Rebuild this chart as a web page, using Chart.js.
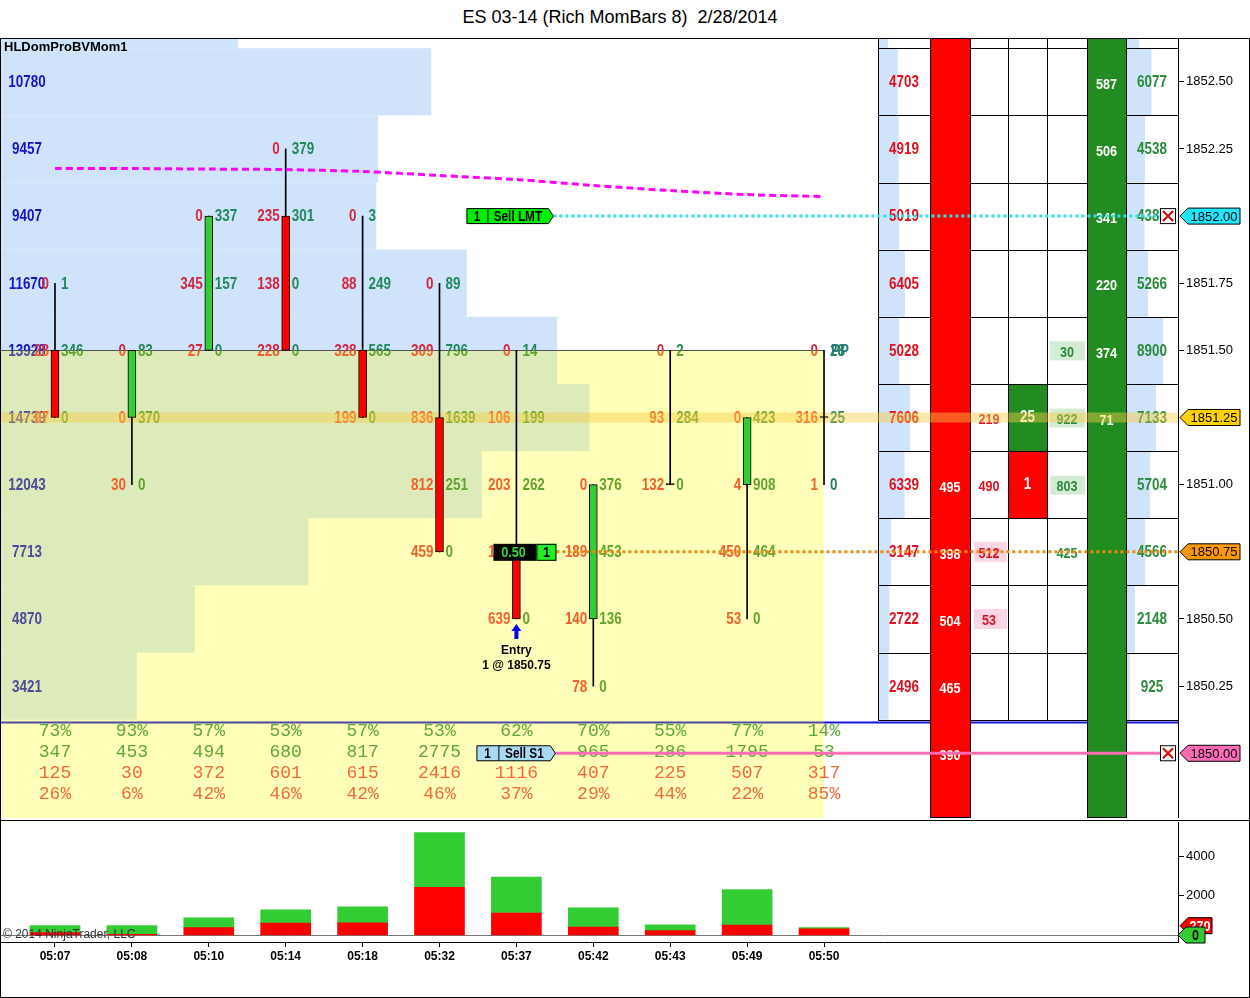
<!DOCTYPE html>
<html>
<head>
<meta charset="utf-8">
<title>ES 03-14 (Rich MomBars 8) 2/28/2014</title>
<script src="https://cdn.jsdelivr.net/npm/chart.js@4.4.1/dist/chart.umd.min.js"></script>
<style>
  body { margin: 0; background: #fff; font-family: "Liberation Sans", Arial, sans-serif; }
  #title { position: absolute; left: 0; top: 6px; width: 1240px; text-align: center; font-size: 18px; line-height: 22px; }
  #frame { position: absolute; left: 0; top: 38px; width: 1248px; height: 958px; border: 1px solid #000; z-index: 2; pointer-events: none; }
  #split { position: absolute; left: 0; top: 820px; width: 1250px; height: 1px; background: #000; z-index: 2; }
  #priceCanvas { position: absolute; left: 0; top: 38px; }
  #volumeCanvas { position: absolute; left: 0; top: 822px; }
</style>
</head>
<body>
<div id="title">ES 03-14 (Rich MomBars 8)&nbsp; 2/28/2014</div>
<div id="frame"></div>
<div id="split"></div>
<canvas id="priceCanvas" width="1250" height="780"></canvas>
<canvas id="volumeCanvas" width="1250" height="175"></canvas>
<script>
// bars
const times  = ["05:07", "05:08", "05:10", "05:14", "05:18", "05:32", "05:37", "05:42", "05:43", "05:49", "05:50"];
const opens  = [1851.50, 1851.25, 1851.50, 1852.00, 1851.50, 1851.25, 1850.75, 1850.50, 1851.00, 1851.00, 1851.25];
const highs  = [1851.75, 1851.50, 1852.00, 1852.25, 1852.00, 1851.75, 1851.50, 1851.00, 1851.50, 1851.25, 1851.50];
const lows   = [1851.25, 1851.00, 1851.50, 1851.50, 1851.25, 1850.75, 1850.50, 1850.25, 1851.00, 1850.50, 1851.00];
const closes = [1851.25, 1851.50, 1852.00, 1851.50, 1851.25, 1850.75, 1850.50, 1851.00, 1851.00, 1851.25, 1851.25];
const smaLine = [1852.177, 1852.177, 1852.175, 1852.173, 1852.166, 1852.151, 1852.136, 1852.114, 1852.095, 1852.080, 1852.073];

// footprint, per bar from the high down
const bidByBar = [
  [0, 28, 97], [0, 0, 30], [0, 345, 27], [0, 235, 138, 228], [0, 88, 328, 199],
  [0, 309, 836, 812, 459], [0, 106, 203, 168, 639], [0, 189, 140, 78], [0, 93, 132],
  [0, 4, 450, 53], [0, 316, 1]
];
const askByBar = [
  [1, 346, 0], [83, 370, 0], [337, 157, 0], [379, 301, 0, 0], [3, 249, 565, 0],
  [89, 796, 1639, 251, 0], [14, 199, 262, 1346, 0], [376, 453, 136, 0], [2, 284, 0],
  [423, 908, 464, 0], [28, 25, 0]
];

// volume profile
const profilePrices  = [1852.75, 1852.50, 1852.25, 1852.00, 1851.75, 1851.50, 1851.25, 1851.00, 1850.75, 1850.50, 1850.25];
const profileVolumes = [5950, 10780, 9457, 9407, 11670, 13928, 14739, 12043, 7713, 4870, 3421];

// DOM ladder
const domPrices   = [1852.75, 1852.50, 1852.25, 1852.00, 1851.75, 1851.50, 1851.25, 1851.00, 1850.75, 1850.50, 1850.25];
const domBidSizes = [2400, 4703, 4919, 5019, 6405, 5028, 7606, 6339, 3147, 2722, 2496];
const domAskSizes = [3100, 6077, 4538, 4386, 5266, 8900, 7133, 5704, 4566, 2148, 925];
const soldPrices  = [1851.00, 1850.75, 1850.50, 1850.25, 1850.00];
const soldVolumes = [495, 398, 504, 465, 390];
const boughtPrices  = [1852.50, 1852.25, 1852.00, 1851.75, 1851.50, 1851.25];
const boughtVolumes = [587, 506, 341, 220, 374, 71];
const bidChangePrices = [1851.25, 1851.00, 1850.75, 1850.50];
const bidChanges      = [219, 490, 512, 53];
const askChangePrices = [1851.50, 1851.25, 1851.00, 1850.75];
const askChanges      = [30, 922, 803, 425];
const lastTradePrices = [1851.25, 1851.00];
const lastTradeSizes  = [25, 1];

// levels and orders
const priceTicks   = [1852.50, 1852.25, 1851.75, 1851.50, 1851.00, 1850.50, 1850.25];
const volumeTicks  = [2000, 4000];
const pivotPrice   = 1851.50;
const lastPrice    = 1851.25;
const limitPrice   = 1852.00;
const entryPrice   = 1850.75;
const stopPrice    = 1850.00;
const lowLinePrice = 1850.115;
const volumeMarks  = [270, 0];

const SANS = '"Liberation Sans", Arial, sans-serif';
const HALF = 0.125;
Chart.defaults.font.family = SANS;

const sum = arr => arr.reduce((s, v) => s + v, 0);
const askTotals = askByBar.map(sum);
const bidTotals = bidByBar.map(sum);

// condensed bold text (no narrow face installed)
function nt(ctx, text, x, y, align, size) {
  ctx.save();
  ctx.font = 'bold ' + (size || 16) + 'px ' + SANS;
  ctx.textAlign = align;
  ctx.textBaseline = 'middle';
  ctx.translate(x, y);
  ctx.scale(0.84, 1);
  ctx.fillText(text, 0, 0);
  ctx.restore();
}

function rightTag(ctx, xTip, yc, w, fill, text, textColor, narrow) {
  const h = 16;
  ctx.beginPath();
  ctx.moveTo(xTip, yc);
  ctx.lineTo(xTip + 8, yc - h / 2);
  ctx.lineTo(xTip + w, yc - h / 2);
  ctx.lineTo(xTip + w, yc + h / 2);
  ctx.lineTo(xTip + 8, yc + h / 2);
  ctx.closePath();
  ctx.fillStyle = fill; ctx.fill();
  ctx.strokeStyle = '#000'; ctx.lineWidth = 1; ctx.stroke();
  ctx.fillStyle = textColor;
  if (narrow) {
    nt(ctx, text, xTip + 4 + w / 2, yc + 1, 'center', 15);
  } else {
    ctx.font = '13px ' + SANS;
    ctx.textAlign = 'center'; ctx.textBaseline = 'middle';
    ctx.fillText(text, xTip + 4 + w / 2, yc + 1);
  }
}

function orderFlag(ctx, left, divX, right, yc, fill, qty, label) {
  const h = 15;
  ctx.beginPath();
  ctx.moveTo(left + 0.5, yc - h / 2);
  ctx.lineTo(right - 5, yc - h / 2);
  ctx.lineTo(right, yc);
  ctx.lineTo(right - 5, yc + h / 2);
  ctx.lineTo(left + 0.5, yc + h / 2);
  ctx.closePath();
  ctx.fillStyle = fill; ctx.fill();
  ctx.strokeStyle = '#000'; ctx.lineWidth = 1; ctx.stroke();
  ctx.beginPath(); ctx.moveTo(divX + 0.5, yc - h / 2); ctx.lineTo(divX + 0.5, yc + h / 2); ctx.stroke();
  ctx.fillStyle = '#000';
  nt(ctx, qty, (left + divX) / 2, yc + 1, 'center', 14);
  nt(ctx, label, (divX + right - 5) / 2, yc + 1, 'center', 14);
}

function closeBox(ctx, xc, yc) {
  ctx.fillStyle = '#fff'; ctx.fillRect(xc - 8, yc - 8, 16, 16);
  ctx.strokeStyle = '#000'; ctx.lineWidth = 1; ctx.strokeRect(xc - 7.5, yc - 7.5, 15, 15);
  ctx.strokeStyle = '#e00000'; ctx.lineWidth = 2;
  ctx.beginPath();
  ctx.moveTo(xc - 5, yc - 5); ctx.lineTo(xc + 5, yc + 5);
  ctx.moveTo(xc + 5, yc - 5); ctx.lineTo(xc - 5, yc + 5);
  ctx.stroke();
}

function drawFootprint(ctx, x, y, a, pal) {
  ctx.fillStyle = pal.profile;
  profilePrices.forEach((p, i) => nt(ctx, String(profileVolumes[i]), a.left + 27, y.getPixelForValue(p) + 1, 'center', 16));
  times.forEach((t, i) => {
    const xi = x.getPixelForValue(i);
    bidByBar[i].forEach((v, j) => {
      const yy = y.getPixelForValue(highs[i] - 0.25 * j) + 1;
      ctx.fillStyle = pal.bid; nt(ctx, String(v), xi - 6, yy, 'right', 16);
      ctx.fillStyle = pal.ask; nt(ctx, String(askByBar[i][j]), xi + 6, yy, 'left', 16);
    });
  });
  ctx.fillStyle = pal.pp;
  nt(ctx, 'PP', x.getPixelForValue(times.length - 1) + 7, y.getPixelForValue(pivotPrice) + 1, 'left', 16);
}

const DOM_COLS = [878, 930, 970, 1008, 1047, 1087, 1126, 1178];

function drawDom(ctx, y, xd, a) {
  const depthW = v => xd.getPixelForValue(v) - xd.getPixelForValue(0);
  const rowT = p => y.getPixelForValue(p + HALF);
  const rowB = p => y.getPixelForValue(p - HALF);
  const colMid = c => (DOM_COLS[c] + DOM_COLS[c + 1]) / 2;

  ctx.fillStyle = '#cfe4fa';
  domPrices.forEach((p, i) => {
    ctx.fillRect(DOM_COLS[0], rowT(p), depthW(domBidSizes[i]), rowB(p) - rowT(p));
    ctx.fillRect(DOM_COLS[6], rowT(p), depthW(domAskSizes[i]), rowB(p) - rowT(p));
  });

  const gridBottom = rowB(domPrices[domPrices.length - 1]);
  ctx.strokeStyle = '#000'; ctx.lineWidth = 1;
  ctx.beginPath();
  DOM_COLS.forEach(cx => { ctx.moveTo(cx + 0.5, a.top); ctx.lineTo(cx + 0.5, Math.round(gridBottom) + 0.5); });
  domPrices.forEach(p => {
    const yy = Math.round(rowB(p)) + 0.5;
    ctx.moveTo(DOM_COLS[0], yy); ctx.lineTo(DOM_COLS[7], yy);
  });
  ctx.stroke();

  // last traded cells
  lastTradePrices.forEach((p, i) => {
    ctx.fillStyle = i === 0 ? '#228b22' : '#ff0000';
    ctx.fillRect(DOM_COLS[3] + 1, Math.round(rowT(p)) + 1, DOM_COLS[4] - DOM_COLS[3] - 1, Math.round(rowB(p) - rowT(p)) - 1);
  });

  // session traded columns
  const barH = a.bottom - 1 - a.top;
  ctx.fillStyle = '#ff0000';
  ctx.fillRect(DOM_COLS[1], a.top, DOM_COLS[2] - DOM_COLS[1], barH);
  ctx.fillStyle = '#228b22';
  ctx.fillRect(DOM_COLS[5], a.top, DOM_COLS[6] - DOM_COLS[5], barH);
  ctx.strokeStyle = '#000';
  ctx.strokeRect(DOM_COLS[1] + 0.5, a.top + 0.5, DOM_COLS[2] - DOM_COLS[1], barH);
  ctx.strokeRect(DOM_COLS[5] + 0.5, a.top + 0.5, DOM_COLS[6] - DOM_COLS[5], barH);

  // shaded change cells
  const pinkRows = [1850.75, 1850.50];
  const greenRows = [1851.50, 1851.25, 1851.00];
  ctx.fillStyle = '#fbd7e6';
  pinkRows.forEach(p => ctx.fillRect(DOM_COLS[2] + 4, y.getPixelForValue(p) - 10, 33, 20));
  ctx.fillStyle = '#d3ecd3';
  greenRows.forEach(p => ctx.fillRect(DOM_COLS[4] + 3, y.getPixelForValue(p) - 9, 35, 19));

  domPrices.forEach((p, i) => {
    const yy = y.getPixelForValue(p) + 1;
    ctx.fillStyle = '#e0101e'; nt(ctx, String(domBidSizes[i]), colMid(0), yy, 'center', 16);
    ctx.fillStyle = '#2b8a3c'; nt(ctx, String(domAskSizes[i]), colMid(6), yy, 'center', 16);
  });
  bidChangePrices.forEach((p, i) => {
    ctx.fillStyle = '#e0101e'; nt(ctx, String(bidChanges[i]), colMid(2), y.getPixelForValue(p) + 2, 'center', 15);
  });
  askChangePrices.forEach((p, i) => {
    ctx.fillStyle = '#2b8a3c'; nt(ctx, String(askChanges[i]), colMid(4), y.getPixelForValue(p) + 2, 'center', 15);
  });
  ctx.fillStyle = '#fff';
  lastTradePrices.forEach((p, i) => nt(ctx, String(lastTradeSizes[i]), colMid(3), y.getPixelForValue(p), 'center', 16));
  soldPrices.forEach((p, i) => nt(ctx, String(soldVolumes[i]), colMid(1), y.getPixelForValue(p) + 3, 'center', 15));
  boughtPrices.forEach((p, i) => nt(ctx, String(boughtVolumes[i]), colMid(5), y.getPixelForValue(p) + 3, 'center', 15));
}

const priceLadder = {
  id: 'priceLadder',
  beforeDatasetsDraw(chart) {
    const { ctx, chartArea: a, scales } = chart;
    const x = scales.x, y = scales.y;
    const vaRight = x.getPixelForValue(times.length - 1);
    const vaTop = y.getPixelForValue(pivotPrice);

    ctx.save();
    ctx.beginPath(); ctx.rect(a.left, a.top, a.width, a.height); ctx.clip();

    const profileBars = color => {
      ctx.fillStyle = color;
      profilePrices.forEach((p, i) => {
        const t = y.getPixelForValue(p + HALF), b = y.getPixelForValue(p - HALF);
        ctx.fillRect(a.left, t, scales.xp.getPixelForValue(profileVolumes[i]) - a.left, b - t);
      });
    };
    profileBars('#cfe4fa');

    // value area box
    ctx.save();
    ctx.beginPath(); ctx.rect(a.left, vaTop, vaRight - a.left, a.bottom - vaTop); ctx.clip();
    ctx.fillStyle = '#ffffb9';
    ctx.fillRect(a.left, vaTop, vaRight - a.left, a.bottom - vaTop);
    profileBars('#dcebb9');
    ctx.restore();

    // low line
    const yl = y.getPixelForValue(lowLinePrice);
    ctx.lineWidth = 2;
    ctx.strokeStyle = '#4b4ba6';
    ctx.beginPath(); ctx.moveTo(a.left, yl); ctx.lineTo(vaRight, yl); ctx.stroke();
    ctx.strokeStyle = '#1414d2';
    ctx.beginPath(); ctx.moveTo(vaRight, yl); ctx.lineTo(a.right, yl); ctx.stroke();

    // pivot line
    ctx.strokeStyle = '#555'; ctx.lineWidth = 1;
    ctx.beginPath(); ctx.moveTo(a.left, Math.round(vaTop) + 0.5); ctx.lineTo(vaRight, Math.round(vaTop) + 0.5); ctx.stroke();

    // footprint numbers, two palettes
    ctx.save();
    ctx.beginPath(); ctx.rect(a.left, a.top, a.width, a.height); ctx.rect(a.left, vaTop, vaRight - a.left, a.bottom - vaTop);
    ctx.clip('evenodd');
    drawFootprint(ctx, x, y, a, { profile: '#1616c8', bid: '#d4263f', ask: '#21875a', pp: '#2a7a7a' });
    ctx.restore();
    ctx.save();
    ctx.beginPath(); ctx.rect(a.left, vaTop, vaRight - a.left, a.bottom - vaTop); ctx.clip();
    drawFootprint(ctx, x, y, a, { profile: '#4b4b9c', bid: '#f2602c', ask: '#63a42e', pp: '#2a7a7a' });
    ctx.restore();

    // bar statistics
    const statRows = [
      { text: askTotals.map((v, i) => Math.floor(100 * v / (v + bidTotals[i])) + '%'), color: '#5ea836', up: 87 },
      { text: askTotals.map(String), color: '#5ea836', up: 66 },
      { text: bidTotals.map(String), color: '#f26a3a', up: 45 },
      { text: bidTotals.map((v, i) => Math.floor(100 * v / (v + askTotals[i])) + '%'), color: '#f26a3a', up: 24 }
    ];
    ctx.font = '18px "Liberation Mono", "Courier New", monospace';
    ctx.textAlign = 'center'; ctx.textBaseline = 'middle';
    statRows.forEach(r => {
      ctx.fillStyle = r.color;
      r.text.forEach((s, i) => ctx.fillText(s, x.getPixelForValue(i), a.bottom - r.up));
    });

    drawDom(ctx, y, scales.xd, a);

    // last price band
    const yb = y.getPixelForValue(lastPrice);
    ctx.fillStyle = 'rgba(246, 204, 70, 0.45)';
    ctx.fillRect(a.left, yb - 5, a.width, 10);

    // chart label
    ctx.fillStyle = '#000'; ctx.font = 'bold 13px ' + SANS;
    ctx.textAlign = 'left'; ctx.textBaseline = 'middle';
    ctx.fillText('HLDomProBVMom1', a.left + 4, a.top + 9);
    ctx.restore();
  },
  afterDatasetsDraw(chart) {
    const { ctx, chartArea: a, scales } = chart;
    const x = scales.x, y = scales.y;
    const xo = x.getPixelForValue(6);
    ctx.save();
    ctx.beginPath(); ctx.rect(a.left, a.top, a.width, a.height); ctx.clip();

    const yLmt = y.getPixelForValue(limitPrice);
    const yEnt = y.getPixelForValue(entryPrice);
    const yStp = y.getPixelForValue(stopPrice);

    ctx.lineWidth = 3;
    ctx.setLineDash([3, 3]);
    ctx.strokeStyle = '#33dfe0';
    ctx.beginPath(); ctx.moveTo(xo + 37, yLmt); ctx.lineTo(a.right - 18, yLmt); ctx.stroke();
    ctx.strokeStyle = '#f08a10';
    ctx.beginPath(); ctx.moveTo(xo + 40, yEnt); ctx.lineTo(a.right, yEnt); ctx.stroke();
    ctx.setLineDash([]);
    ctx.strokeStyle = '#ff6eb4';
    ctx.beginPath(); ctx.moveTo(xo + 39, yStp); ctx.lineTo(a.right - 18, yStp); ctx.stroke();

    orderFlag(ctx, xo - 50, xo - 29, xo + 37, yLmt, '#00ee00', '1', 'Sell LMT');
    orderFlag(ctx, xo - 40, xo - 18, xo + 39, yStp, '#a9d9f2', '1', 'Sell S1');

    // working position box
    ctx.fillStyle = '#000'; ctx.fillRect(xo - 23, yEnt - 8, 43, 17);
    ctx.fillStyle = '#22ee22'; ctx.fillRect(xo + 20, yEnt - 8, 20, 17);
    ctx.strokeStyle = '#000'; ctx.lineWidth = 1; ctx.strokeRect(xo + 20.5, yEnt - 7.5, 19, 16);
    ctx.fillStyle = '#33dd33'; nt(ctx, '0.50', xo - 3, yEnt + 1, 'center', 15);
    ctx.fillStyle = '#000'; nt(ctx, '1', xo + 30, yEnt + 1, 'center', 15);

    closeBox(ctx, a.right - 10, yLmt);
    closeBox(ctx, a.right - 10, yStp);

    // entry marker
    const ya = y.getPixelForValue(lows[6]) + 5;
    ctx.fillStyle = '#0000ff';
    ctx.beginPath();
    ctx.moveTo(xo, ya); ctx.lineTo(xo + 5, ya + 7); ctx.lineTo(xo - 5, ya + 7); ctx.closePath(); ctx.fill();
    ctx.fillRect(xo - 2, ya + 7, 4, 8);
    ctx.fillStyle = '#000'; ctx.font = 'bold 12px ' + SANS;
    ctx.textAlign = 'center'; ctx.textBaseline = 'middle';
    ctx.fillText('Entry', xo, ya + 27);
    ctx.fillText('1 @ ' + entryPrice.toFixed(2), xo, ya + 42);
    ctx.restore();
  },
  afterDraw(chart) {
    const { ctx, chartArea: a, scales } = chart;
    const y = scales.y;
    ctx.save();
    [[limitPrice, '#1ee8ff'], [lastPrice, '#ffd200'], [entryPrice, '#ff9a00'], [stopPrice, '#ff6ab9']].forEach(([p, c]) => {
      rightTag(ctx, a.right + 2, y.getPixelForValue(p), 60, c, p.toFixed(2), '#000', false);
    });
    ctx.restore();
  }
};

const noPad = s => { s.paddingTop = 0; s.paddingBottom = 0; s.paddingLeft = 0; s.paddingRight = 0; };

const priceChart = new Chart(document.getElementById('priceCanvas'), {
  type: 'bar',
  data: {
    datasets: [
      {
        type: 'line',
        data: smaLine.map((v, i) => ({ x: i, y: v })),
        borderColor: '#ff00ff',
        borderWidth: 3,
        borderDash: [7, 4],
        pointRadius: 0,
        tension: 0.3,
        order: 1
      },
      {
        data: times.map((t, i) => ({ x: i, y: [opens[i], closes[i]] })),
        backgroundColor: times.map((t, i) => closes[i] > opens[i] ? '#33cc33' : closes[i] < opens[i] ? '#ff0000' : '#000'),
        borderColor: '#000',
        borderWidth: 1,
        borderSkipped: false,
        barThickness: 8,
        minBarLength: 1,
        grouped: false,
        order: 2
      },
      {
        data: times.map((t, i) => ({ x: i, y: [lows[i], highs[i]] })),
        backgroundColor: '#000',
        barThickness: 1,
        grouped: false,
        order: 3
      }
    ]
  },
  options: {
    responsive: false,
    animation: false,
    layout: { padding: 0 },
    plugins: { legend: { display: false }, tooltip: { enabled: false } },
    scales: {
      x: { type: 'linear', min: -0.715, max: 14.603, offset: false, display: false, grid: { offset: false } },
      xp: { type: 'linear', axis: 'x', position: 'bottom', min: 0, max: 29450, offset: false, grid: { offset: false }, display: false },
      xd: { type: 'linear', axis: 'x', position: 'bottom', min: 0, max: 280476, offset: false, grid: { offset: false }, display: false },
      y: {
        position: 'right',
        min: 1849.759,
        max: 1852.663,
        afterFit: s => { s.width = 72; noPad(s); },
        afterBuildTicks: s => { s.ticks = priceTicks.map(v => ({ value: v })); },
        ticks: { callback: v => Number(v).toFixed(2), color: '#000', font: { size: 13 }, padding: 2 },
        grid: { drawOnChartArea: false, tickLength: 6, color: '#000' },
        border: { color: '#000' }
      }
    }
  },
  plugins: [priceLadder]
});

const volumeExtras = {
  id: 'volumeExtras',
  beforeDatasetsDraw(chart) {
    const { ctx, chartArea: a, scales } = chart;
    const y0 = Math.round(scales.y.getPixelForValue(0)) + 0.5;
    ctx.save();
    ctx.strokeStyle = '#777'; ctx.lineWidth = 1;
    ctx.beginPath(); ctx.moveTo(a.left, y0); ctx.lineTo(a.right, y0); ctx.stroke();
    ctx.restore();
  },
  afterDraw(chart) {
    const { ctx, chartArea: a, scales } = chart;
    const y = scales.y;
    ctx.save();
    ctx.fillStyle = '#333'; ctx.font = '12px ' + SANS;
    ctx.textAlign = 'left'; ctx.textBaseline = 'middle';
    ctx.fillText('\u00a9 2014 NinjaTrader, LLC', a.left + 3, y.getPixelForValue(0));
    rightTag(ctx, a.right + 2, y.getPixelForValue(volumeMarks[0]) - 4, 32, '#ff0000', String(volumeMarks[0]), '#fff', true);
    rightTag(ctx, a.right, y.getPixelForValue(volumeMarks[1]), 27, '#33cc33', String(volumeMarks[1]), '#000', true);
    ctx.restore();
  }
};

const volumeChart = new Chart(document.getElementById('volumeCanvas'), {
  type: 'bar',
  data: {
    datasets: [
      { data: times.map((t, i) => ({ x: i, y: bidTotals[i] })), backgroundColor: '#ff0000', barThickness: 50 },
      { data: times.map((t, i) => ({ x: i, y: askTotals[i] })), backgroundColor: '#33cc33', barThickness: 50 }
    ]
  },
  options: {
    responsive: false,
    animation: false,
    layout: { padding: 0 },
    plugins: { legend: { display: false }, tooltip: { enabled: false } },
    scales: {
      x: {
        type: 'linear', min: -0.715, max: 14.603, offset: false, stacked: true,
        afterFit: s => { s.height = 55; noPad(s); },
        afterBuildTicks: s => { s.ticks = times.map((t, i) => ({ value: i })); },
        ticks: { callback: v => times[v], autoSkip: false, maxRotation: 0, color: '#000', font: { size: 12, weight: 'bold' }, padding: 2 },
        grid: { drawOnChartArea: false, offset: false, tickLength: 5, color: '#000' },
        border: { color: '#000' }
      },
      y: {
        position: 'right', stacked: true, min: -354, max: 5722,
        afterFit: s => { s.width = 72; noPad(s); },
        afterBuildTicks: s => { s.ticks = volumeTicks.map(v => ({ value: v })); },
        ticks: { callback: v => String(v), color: '#000', font: { size: 13 }, padding: 2 },
        grid: { drawOnChartArea: false, tickLength: 6, color: '#000' },
        border: { color: '#000' }
      }
    }
  },
  plugins: [volumeExtras]
});
</script>
</body>
</html>
